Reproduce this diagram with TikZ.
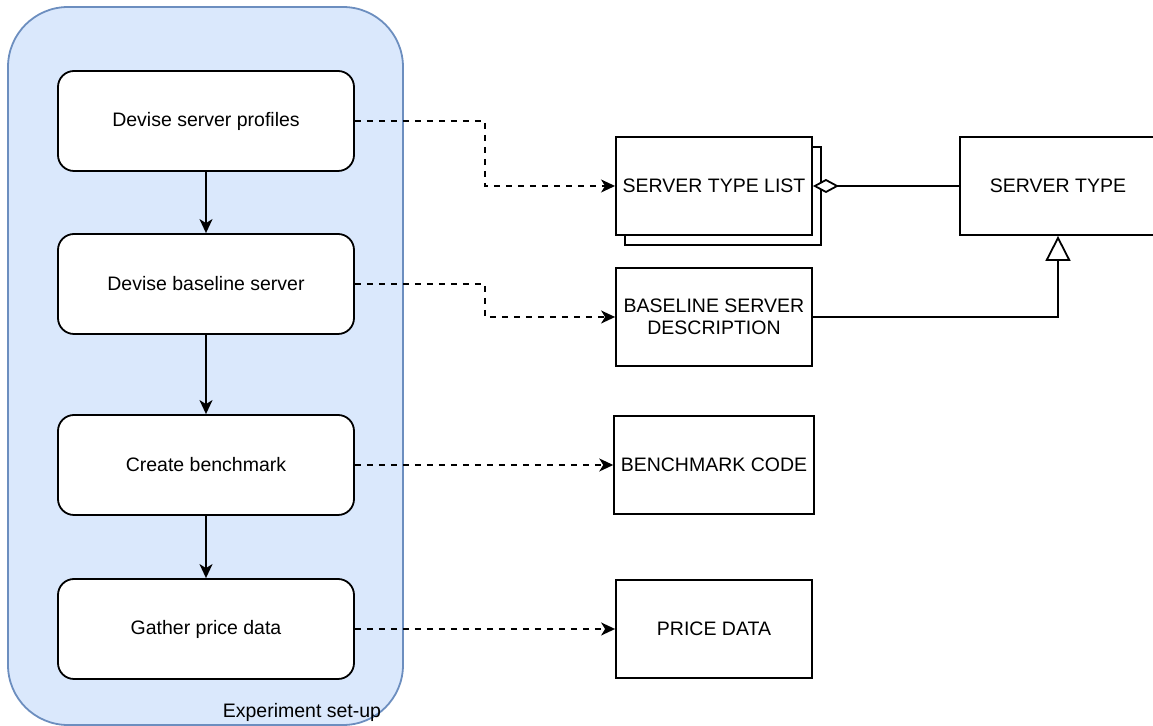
\documentclass[tikz,border=0pt]{standalone}
\usepackage{fontspec}
\setmainfont{Liberation Sans}
\usetikzlibrary{arrows.meta,shadows}
\definecolor{setupfill}{HTML}{DAE8FC}
\definecolor{setupline}{HTML}{6C8EBF}
\begin{document}
\begin{tikzpicture}[
x=0.5pt, y=-0.5pt,
font=\fontsize{9.75}{11}\selectfont,
line width=0.9pt,
>={Stealth[length=7pt,width=6.5pt,inset=2pt]}
]

\tikzstyle{grp} = [draw=setupline, fill=setupfill, rounded corners=30pt, minimum width=197.5pt, minimum height=359pt]
\tikzstyle{act} = [draw, fill=white, rounded corners=8pt, minimum width=148pt, minimum height=50pt]
\tikzstyle{obj} = [draw, fill=white, minimum width=98pt, minimum height=49pt, align=center]
\tikzstyle{seq} = [draw, ->]
\tikzstyle{prod} = [draw, dashed, ->]

\useasboundingbox (0,0) rectangle (1153,726);

\node[grp] (setup) at (205.5,366) {};
\node[anchor=east, inner sep=0pt] (setuplbl) at (382,712) {Experiment set-up};

\node[act] (d1) at (206,121) {Devise server profiles};
\node[act] (d2) at (206,284) {Devise baseline server};
\node[act] (d3) at (206,465) {Create benchmark};
\node[act] (d4) at (206,629) {Gather price data};

\node[obj, copy shadow={shadow xshift=4.5pt, shadow yshift=-5pt, fill=white, draw=black}] (stlist) at (714,186) {SERVER TYPE LIST};
\node[obj] (stype) at (1058,186) {SERVER TYPE};
\node[obj] (bdesc) at (714,317) {BASELINE SERVER\\DESCRIPTION};
\node[obj] (bcode) at (714,465) {BENCHMARK CODE};
\node[obj] (pdata) at (714,629) {PRICE DATA};

\draw[seq] (d1) -- (d2);
\draw[seq] (d2) -- (d3);
\draw[seq] (d3) -- (d4);

\draw[prod] (d1.east) -- ++(130,0) |- (stlist.west);
\draw[prod] (d2.east) -- ++(130,0) |- (bdesc.west);
\draw[prod] (d3) -- (bcode);
\draw[prod] (d4) -- (pdata);

\draw[-{Diamond[fill=white,length=13pt,width=7pt]}] (stype) -- (stlist);
\draw[-{Triangle[fill=white,length=12.5pt,width=12.5pt]}] (bdesc.east) -| (stype.south);

\end{tikzpicture}
\end{document}
